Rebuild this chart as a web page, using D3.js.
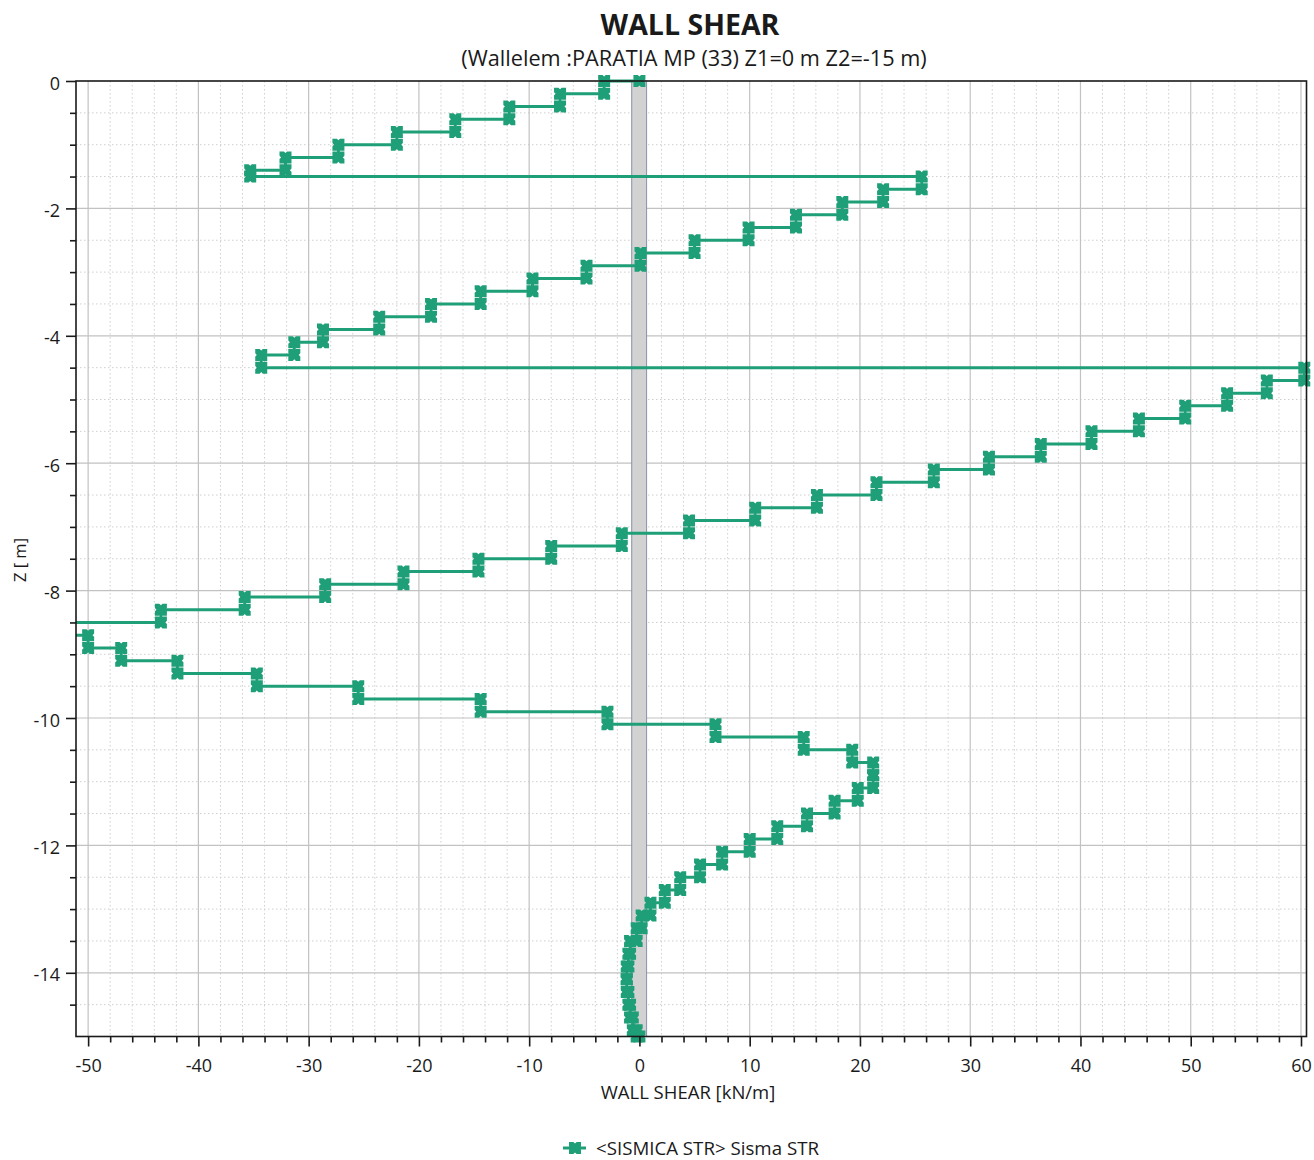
<!DOCTYPE html>
<html>
<head>
<meta charset="utf-8">
<title>WALL SHEAR</title>
<script src="https://cdn.jsdelivr.net/npm/d3@7"></script>
<style>
  html, body { margin: 0; padding: 0; background: #ffffff; }
  svg { display: block; }
  text { font-family: "Open Sans", "Noto Sans", "DejaVu Sans", sans-serif; fill: #1a1a1a; }
</style>
</head>
<body>
<svg id="chart" width="1314" height="1160"></svg>
<script>
// ---- data -------------------------------------------------------------
// Node elevations along the wall [m]
const zNodes = [
  0, -0.2, -0.4, -0.6, -0.8, -1.0, -1.2, -1.4, -1.5,
  -1.7, -1.9, -2.1, -2.3, -2.5, -2.7, -2.9, -3.1, -3.3, -3.5, -3.7, -3.9, -4.1, -4.3, -4.5,
  -4.7, -4.9, -5.1, -5.3, -5.5, -5.7, -5.9, -6.1, -6.3, -6.5, -6.7, -6.9, -7.1, -7.3, -7.5,
  -7.7, -7.9, -8.1, -8.3, -8.5, -8.7, -8.9, -9.1, -9.3, -9.5, -9.7, -9.9, -10.1, -10.3,
  -10.5, -10.7, -10.9, -11.1, -11.3, -11.5, -11.7, -11.9, -12.1, -12.3, -12.5, -12.7,
  -12.9, -13.1, -13.3, -13.5, -13.7, -13.9, -14.1, -14.3, -14.5, -14.7, -14.9, -15.0
];

// Shear in each wall element (between consecutive nodes) [kN/m]
const elementShear = [
  -3.2, -7.2, -11.8, -16.7, -22.0, -27.3, -32.1, -35.3,
  25.6, 22.1, 18.4, 14.2, 9.9, 5.0, 0.1, -4.8, -9.7, -14.4, -18.9, -23.6, -28.7, -31.3, -34.3,
  60.3, 56.9, 53.3, 49.5, 45.3, 41.0, 36.4, 31.7, 26.7, 21.5, 16.1, 10.5, 4.5, -1.6, -8.0,
  -14.6, -21.4, -28.5, -35.8, -43.4, -51.4, -50.0, -47.0, -41.9, -34.7, -25.5, -14.4, -2.9,
  6.9, 14.9, 19.3, 21.2, 21.2, 19.8, 17.7, 15.2, 12.5, 10.0, 7.5, 5.5, 3.7, 2.3, 1.0, 0.2,
  -0.25, -0.85, -1.0, -1.15, -1.15, -1.0, -0.85, -0.6, -0.25
];

const seriesName = "<SISMICA STR> Sisma STR";
const chartTitle = "WALL SHEAR";
const chartSubtitle = "(Wallelem :PARATIA MP (33) Z1=0 m Z2=-15 m)";
const xTitle = "WALL SHEAR [kN/m]";
const yTitle = "Z [ m]";

const xTickValues = [-50, -40, -30, -20, -10, 0, 10, 20, 30, 40, 50, 60];
const zTickValues = [0, -2, -4, -6, -8, -10, -12, -14];
const xDomain = [-51.1, 60.5];
const zDomain = [0, -15];
const wallExtent = [-0.7, 0.65];   // wall thickness band around x = 0

// ---- layout -----------------------------------------------------------
const plot = { left: 76, right: 1306.5, top: 81, bottom: 1036.5 };
const lineColor = "#1f9f77";
const plainNumber = d => String(d);   // ASCII hyphen for negatives

const svg = d3.select("#chart");

const x = d3.scaleLinear().domain(xDomain).range([plot.left, plot.right]);
const y = d3.scaleLinear().domain(zDomain).range([plot.top, plot.bottom]);

// minor grid spacing: 2 kN/m horizontally, 0.5 m vertically
const xMinor = d3.range(-50, 60.001, 2).filter(v => !xTickValues.includes(v));
const zMinor = d3.range(0, -15.001, -0.5).filter(v => !zTickValues.includes(v) && v > -15);

const grid = svg.append("g");
grid.selectAll("line.xminor").data(xMinor).join("line")
  .attr("x1", d => x(d)).attr("x2", d => x(d))
  .attr("y1", plot.top).attr("y2", plot.bottom)
  .attr("stroke", "#cfcfcf").attr("stroke-width", 1)
  .attr("stroke-dasharray", "1.5,2.5");
grid.selectAll("line.zminor").data(zMinor).join("line")
  .attr("y1", d => y(d)).attr("y2", d => y(d))
  .attr("x1", plot.left).attr("x2", plot.right)
  .attr("stroke", "#cfcfcf").attr("stroke-width", 1)
  .attr("stroke-dasharray", "1.5,2.5");
grid.selectAll("line.xmajor").data(xTickValues).join("line")
  .attr("x1", d => x(d)).attr("x2", d => x(d))
  .attr("y1", plot.top).attr("y2", plot.bottom)
  .attr("stroke", "#c2c2c2").attr("stroke-width", 1.2);
grid.selectAll("line.zmajor").data(zTickValues.filter(v => v !== 0)).join("line")
  .attr("y1", d => y(d)).attr("y2", d => y(d))
  .attr("x1", plot.left).attr("x2", plot.right)
  .attr("stroke", "#c2c2c2").attr("stroke-width", 1.2);

// wall band
svg.append("rect")
  .attr("x", x(wallExtent[0])).attr("width", x(wallExtent[1]) - x(wallExtent[0]))
  .attr("y", y(0)).attr("height", y(-15) - y(0))
  .attr("fill", "#d2d2d2").attr("stroke", "#8592a8").attr("stroke-width", 1);

// clip for the diagram line
svg.append("clipPath").attr("id", "plotClip")
  .append("rect")
  .attr("x", plot.left).attr("y", plot.top - 10)
  .attr("width", plot.right - plot.left).attr("height", plot.bottom - plot.top + 20);

// vertices of the stepped shear diagram: at each node the value above, then below
const vertices = [];
zNodes.forEach((z, i) => {
  const above = i === 0 ? 0 : elementShear[i - 1];
  const below = i === zNodes.length - 1 ? 0 : elementShear[i];
  vertices.push({ v: above, z: z });
  vertices.push({ v: below, z: z });
});

const line = d3.line().x(d => x(d.v)).y(d => y(d.z));
svg.append("path")
  .datum(vertices)
  .attr("clip-path", "url(#plotClip)")
  .attr("d", line)
  .attr("fill", "none")
  .attr("stroke", lineColor)
  .attr("stroke-width", 3)
  .attr("stroke-linejoin", "miter");

// notched square marker
const markerPath = "M-6,-6 L-1.6,-6 L0,-4.4 L1.6,-6 L6,-6 L6,-1.6 L4.4,0 L6,1.6 L6,6 L1.6,6 L0,4.4 L-1.6,6 L-6,6 L-6,1.6 L-4.4,0 L-6,-1.6 Z";
svg.append("g").selectAll("path")
  .data(vertices.filter(d => d.v >= xDomain[0] && d.v <= xDomain[1]))
  .join("path")
  .attr("transform", d => `translate(${x(d.v)},${y(d.z)})`)
  .attr("d", markerPath)
  .attr("fill", lineColor);

// frame
svg.append("rect")
  .attr("x", plot.left).attr("y", plot.top)
  .attr("width", plot.right - plot.left).attr("height", plot.bottom - plot.top)
  .attr("fill", "none").attr("stroke", "#1a1a1a").attr("stroke-width", 1.6);

// axes
const xAxis = svg.append("g").attr("transform", `translate(0,${plot.bottom})`)
  .call(d3.axisBottom(x).tickValues(xTickValues).tickSize(10).tickPadding(13).tickFormat(plainNumber));
svg.append("g").attr("transform", `translate(0,${plot.bottom})`)
  .call(d3.axisBottom(x).tickValues(xMinor).tickSize(6).tickFormat(""));
const yAxis = svg.append("g").attr("transform", `translate(${plot.left},0)`)
  .call(d3.axisLeft(y).tickValues(zTickValues).tickSize(10).tickPadding(6).tickFormat(plainNumber));
svg.append("g").attr("transform", `translate(${plot.left},0)`)
  .call(d3.axisLeft(y).tickValues(zMinor).tickSize(6).tickFormat(""));

svg.selectAll(".domain").remove();
svg.selectAll(".tick line").attr("stroke", "#1a1a1a").attr("stroke-width", 1.6);
xAxis.selectAll("text").attr("font-size", 18).attr("fill", "#1a1a1a");
yAxis.selectAll("text").attr("font-size", 18).attr("fill", "#1a1a1a").attr("dy", "0.45em");

// titles
svg.append("text").attr("x", 690).attr("y", 35)
  .attr("text-anchor", "middle").attr("font-size", 28.5).attr("font-weight", "bold")
  .text(chartTitle);
svg.append("text").attr("x", 694).attr("y", 66)
  .attr("text-anchor", "middle").attr("font-size", 21.7)
  .text(chartSubtitle);
svg.append("text").attr("x", 688).attr("y", 1099)
  .attr("text-anchor", "middle").attr("font-size", 18.5)
  .text(xTitle);
svg.append("text")
  .attr("transform", "translate(26,560) rotate(-90)")
  .attr("text-anchor", "middle").attr("font-size", 16.5)
  .text(yTitle);

// legend
const lg = svg.append("g").attr("transform", "translate(575,1148)");
lg.append("line").attr("x1", -12).attr("x2", 11).attr("y1", 0).attr("y2", 0)
  .attr("stroke", lineColor).attr("stroke-width", 3);
lg.append("path").attr("d", markerPath).attr("fill", lineColor);
lg.append("text").attr("x", 21).attr("y", 6.5).attr("font-size", 18.7).text(seriesName);
</script>
</body>
</html>
